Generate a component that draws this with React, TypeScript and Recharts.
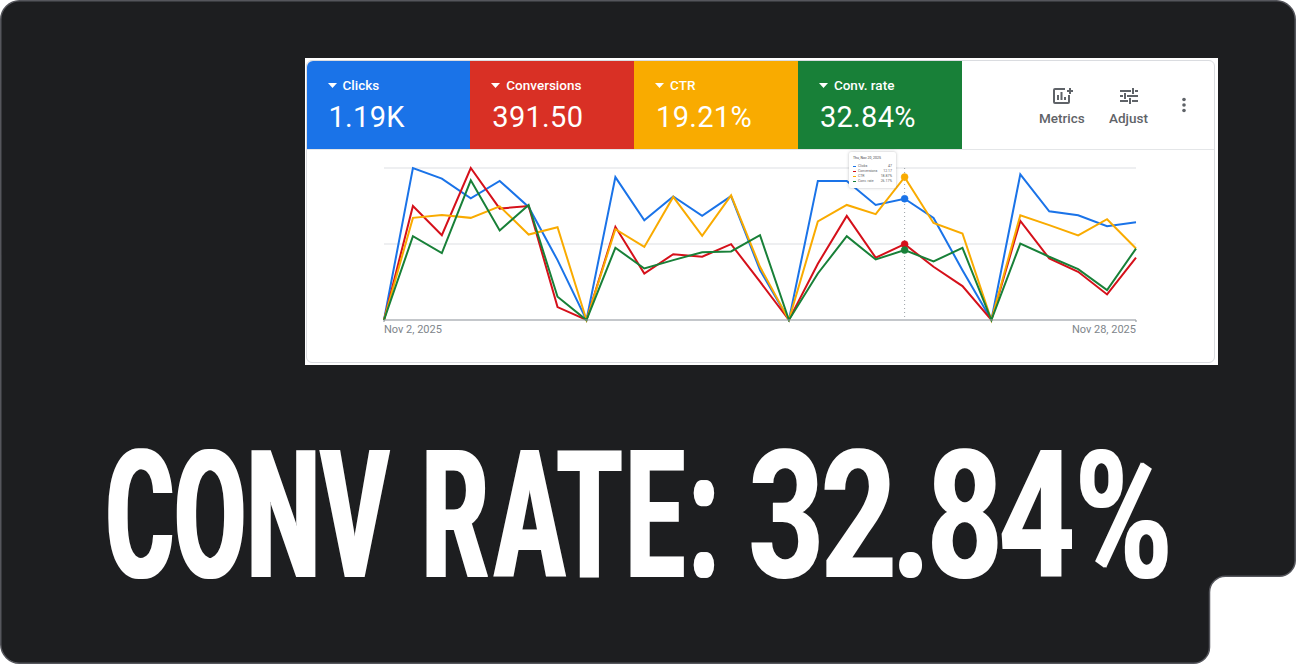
import { CartesianGrid, Line, LineChart, Tooltip, XAxis, YAxis } from "recharts";

const dates = [
  "Nov 2, 2025", "Nov 3, 2025", "Nov 4, 2025", "Nov 5, 2025", "Nov 6, 2025", "Nov 7, 2025", "Nov 8, 2025",
  "Nov 9, 2025", "Nov 10, 2025", "Nov 11, 2025", "Nov 12, 2025", "Nov 13, 2025", "Nov 14, 2025", "Nov 15, 2025",
  "Nov 16, 2025", "Nov 17, 2025", "Nov 18, 2025", "Nov 19, 2025", "Nov 20, 2025", "Nov 21, 2025", "Nov 22, 2025",
  "Nov 23, 2025", "Nov 24, 2025", "Nov 25, 2025", "Nov 26, 2025", "Nov 27, 2025", "Nov 28, 2025",
];

// each metric has its own hidden scale in Google Ads, so these are % of the chart height
const clicks = [0, 100, 93, 80, 91.5, 74.4, 39.4, 0, 94, 65.6, 81.3, 68.6, 81.5, 32.8, 0, 91.5, 91.5, 75.7, 79.8, 67.1, 32.8, 0, 95.8, 71.5, 68.9, 61.7, 64.3];
const conversions = [0, 75, 55.8, 100, 73.3, 75, 8.5, 0, 61.3, 30.6, 43.3, 41.6, 49.9, 25.2, 0, 37, 68.5, 41, 49.9, 35, 22.3, 0, 65.2, 40.5, 31.7, 16.8, 41];
const ctr = [0, 67.2, 69.1, 67.2, 74.8, 56.2, 61, 0, 59.7, 48.1, 81, 55.4, 82, 35, 0, 64.8, 75.7, 69.6, 94, 63.8, 56.9, 0, 68.9, 62.4, 55.6, 66.3, 47];
const convRate = [0, 55.1, 44, 91.9, 58.9, 75.7, 15.3, 0, 47.5, 33.9, 39.4, 44.6, 45.1, 55.8, 0, 30.6, 55.1, 39.8, 46, 38.5, 47.5, 0, 50.3, 41.6, 33.5, 19.7, 47];

const yTicks = [0, 50, 100];
const xTicks = ["Nov 2, 2025", "Nov 28, 2025"];

const tileLabels = ["Clicks", "Conversions", "CTR", "Conv. rate"];
const tileValues = ["1.19K", "391.50", "19.21%", "32.84%"];
const tileColors = ["#1a73e8", "#d93025", "#f9ab00", "#188038"];
const lineColors = ["#1a73e8", "#d5101a", "#f9ab00", "#188038"];
const seriesKeys = ["clicks", "conversions", "ctr", "convRate"];

const hoverIndex = 18;
const hoverTitle = "Thu, Nov 20, 2025";
const hoverValues = ["47", "12.17", "18.87%", "26.17%"];

// no condensed font installed, so the glyphs are squeezed and placed one by one
const headlineWords = "CONV RATE:";
const headlineWordsScale = 0.58;
const headlineWordsX = [106, 174.5, 247, 321, 380, 422, 495, 557.5, 626, 689.5];
const headlineValue = "32.84%";
const headlineValueScale = 0.74;
const headlineValueX = [748.5, 821, 892, 927, 999, 1075];

const chartData = dates.map((date, i) => ({
  date,
  clicks: clicks[i],
  conversions: conversions[i],
  ctr: ctr[i],
  convRate: convRate[i],
}));

const FONT = "Roboto, sans-serif";

function DateTick({ x, y, payload, index }: any) {
  return (
    <text x={x} y={y + 9} textAnchor={index === 0 ? "start" : "end"} fontSize={11} fontFamily={FONT} fill="#80868b">
      {payload.value}
    </text>
  );
}

function HoverCard() {
  return (
    <div style={{ width: 47, height: 36, boxSizing: "border-box", background: "#fff", borderRadius: 2, boxShadow: "0 0 3px rgba(60,64,67,0.35)", padding: "4px 4px", fontFamily: FONT, color: "#5f6368", fontSize: 3.5, lineHeight: "5px" }}>
      <div style={{ color: "#3c4043", marginBottom: 3 }}>{hoverTitle}</div>
      {tileLabels.map((label, i) => (
        <div key={label} style={{ display: "flex", alignItems: "center" }}>
          <span style={{ width: 3, height: 1, background: lineColors[i], marginRight: 2 }} />
          <span style={{ flex: 1 }}>{label}</span>
          <span>{hoverValues[i]}</span>
        </div>
      ))}
    </div>
  );
}

function MetricsIcon() {
  return (
    <svg width={22} height={18} style={{ position: "absolute", left: 1052, top: 87 }} fill="none" stroke="#5f6368" strokeWidth={2}>
      <path d="M13 2H3a1 1 0 0 0-1 1v12a1 1 0 0 0 1 1h13a1 1 0 0 0 1-1V8" />
      <path d="M6 13V8M9.5 13V5M13 13v-3" />
      <path d="M18 1v6M15 4h6" />
    </svg>
  );
}

function AdjustIcon() {
  return (
    <svg width={20} height={18} style={{ position: "absolute", left: 1119, top: 87 }} fill="none" stroke="#5f6368" strokeWidth={2}>
      <path d="M1 4h11M16 4h3M14 1v6M1 9h3M8 9h11M6 6v6M1 14h8M13 14h6M11 11v6" />
    </svg>
  );
}

export default function App() {
  return (
    <div style={{ position: "absolute", left: 0, top: 0, width: 1296, height: 664, background: "#fff", overflow: "hidden" }}>
      <svg width={1296} height={664} style={{ position: "absolute", left: 0, top: 0 }}>
        <defs>
          <filter id="widen" x="-5%" y="-5%" width="110%" height="110%">
            <feMorphology operator="dilate" radius="2 0" />
          </filter>
          <filter id="widenDigits" x="-5%" y="-5%" width="110%" height="110%">
            <feMorphology operator="dilate" radius="1 0" />
          </filter>
        </defs>
        <path
          d="M20 .75H1276a19 19 0 0 1 19.25 19V560a16 16 0 0 1-16 16.25H1226a16 16 0 0 0-16.5 16V647a16 16 0 0 1-16 16.25H20A19 19 0 0 1 .75 644V20A19 19 0 0 1 20 .75Z"
          fill="#1d1e20"
          stroke="#55565c"
          strokeWidth={1.5}
        />
        <g filter="url(#widen)">
          <text
            transform={`translate(0 577) scale(${headlineWordsScale} 1)`}
            x={headlineWordsX.map((x) => x / headlineWordsScale).join(" ")}
            y={0}
            fontFamily={FONT}
            fontWeight={700}
            fontSize={178}
            fill="#fff"
          >
            {headlineWords}
          </text>
        </g>
        <g filter="url(#widenDigits)">
          <text
            transform={`translate(0 577) scale(${headlineValueScale} 1)`}
            x={headlineValueX.map((x) => x / headlineValueScale).join(" ")}
            y={0}
            fontFamily={FONT}
            fontWeight={700}
            fontSize={178}
            fill="#fff"
          >
            {headlineValue}
          </text>
        </g>
      </svg>

      {/* white screenshot frame */}
      <div style={{ position: "absolute", left: 305, top: 58, width: 913, height: 307, background: "#fff" }} />
      <div style={{ position: "absolute", left: 306, top: 60, width: 909, height: 303, boxSizing: "border-box", border: "1px solid #dadce0", borderRadius: 6 }} />
      <div style={{ position: "absolute", left: 307, top: 149, width: 907, height: 1, background: "#e4e6e8" }} />

      {tileLabels.map((label, i) => (
        <div
          key={label}
          style={{
            position: "absolute",
            left: 306.5 + i * 163.8,
            top: 61,
            width: 163.8,
            height: 88,
            background: tileColors[i],
            borderTopLeftRadius: i === 0 ? 6 : 0,
            color: "#fff",
            fontFamily: FONT,
          }}
        >
          <svg width={10} height={6} style={{ position: "absolute", left: 21, top: 22 }}>
            <path d="M0 0H9L4.5 5Z" fill="#fff" />
          </svg>
          <div style={{ position: "absolute", left: 36, top: 16, fontSize: 13.5, fontWeight: 500, lineHeight: "17px", whiteSpace: "nowrap" }}>{label}</div>
          <div style={{ position: "absolute", left: 22, top: 38, fontSize: 29, lineHeight: "36px", letterSpacing: 0.3, whiteSpace: "nowrap" }}>{tileValues[i]}</div>
        </div>
      ))}

      <MetricsIcon />
      <AdjustIcon />
      <div style={{ position: "absolute", left: 1039, top: 110, fontFamily: FONT, fontSize: 13.5, fontWeight: 500, color: "#5f6368", lineHeight: "16px" }}>Metrics</div>
      <div style={{ position: "absolute", left: 1109, top: 110, fontFamily: FONT, fontSize: 13.5, fontWeight: 500, color: "#5f6368", lineHeight: "16px" }}>Adjust</div>
      <svg width={6} height={16} style={{ position: "absolute", left: 1181, top: 97 }}>
        <circle cx={3} cy={2.5} r={1.8} fill="#5f6368" />
        <circle cx={3} cy={8} r={1.8} fill="#5f6368" />
        <circle cx={3} cy={13.5} r={1.8} fill="#5f6368" />
      </svg>

      <div style={{ position: "absolute", left: 307, top: 150 }}>
        <LineChart width={908} height={212} data={chartData} margin={{ top: 18, right: 79, bottom: 0, left: 77 }}>
          <CartesianGrid vertical={false} stroke="#e8eaed" strokeWidth={1.5} />
          <XAxis
            dataKey="date"
            ticks={xTicks}
            interval={0}
            tick={<DateTick />}
            tickSize={2}
            height={42}
            stroke="#9aa0a6"
            strokeWidth={1.2}
            padding={{ left: 0, right: 0 }}
          />
          <YAxis hide domain={[0, 100]} ticks={yTicks} />
          <Tooltip
            active
            defaultIndex={hoverIndex}
            position={{ x: 542, y: 2 }}
            content={<HoverCard />}
            cursor={{ stroke: "#9aa0a6", strokeDasharray: "1 3", strokeWidth: 1 }}
            isAnimationActive={false}
            wrapperStyle={{ zIndex: 5 }}
          />
          {seriesKeys.map((key, i) => (
            <Line
              key={key}
              type="linear"
              dataKey={key}
              stroke={lineColors[i]}
              strokeWidth={2}
              dot={false}
              activeDot={{ r: 3.5, fill: lineColors[i], stroke: lineColors[i], strokeWidth: 0.5 }}
              isAnimationActive={false}
            />
          ))}
        </LineChart>
      </div>
    </div>
  );
}
